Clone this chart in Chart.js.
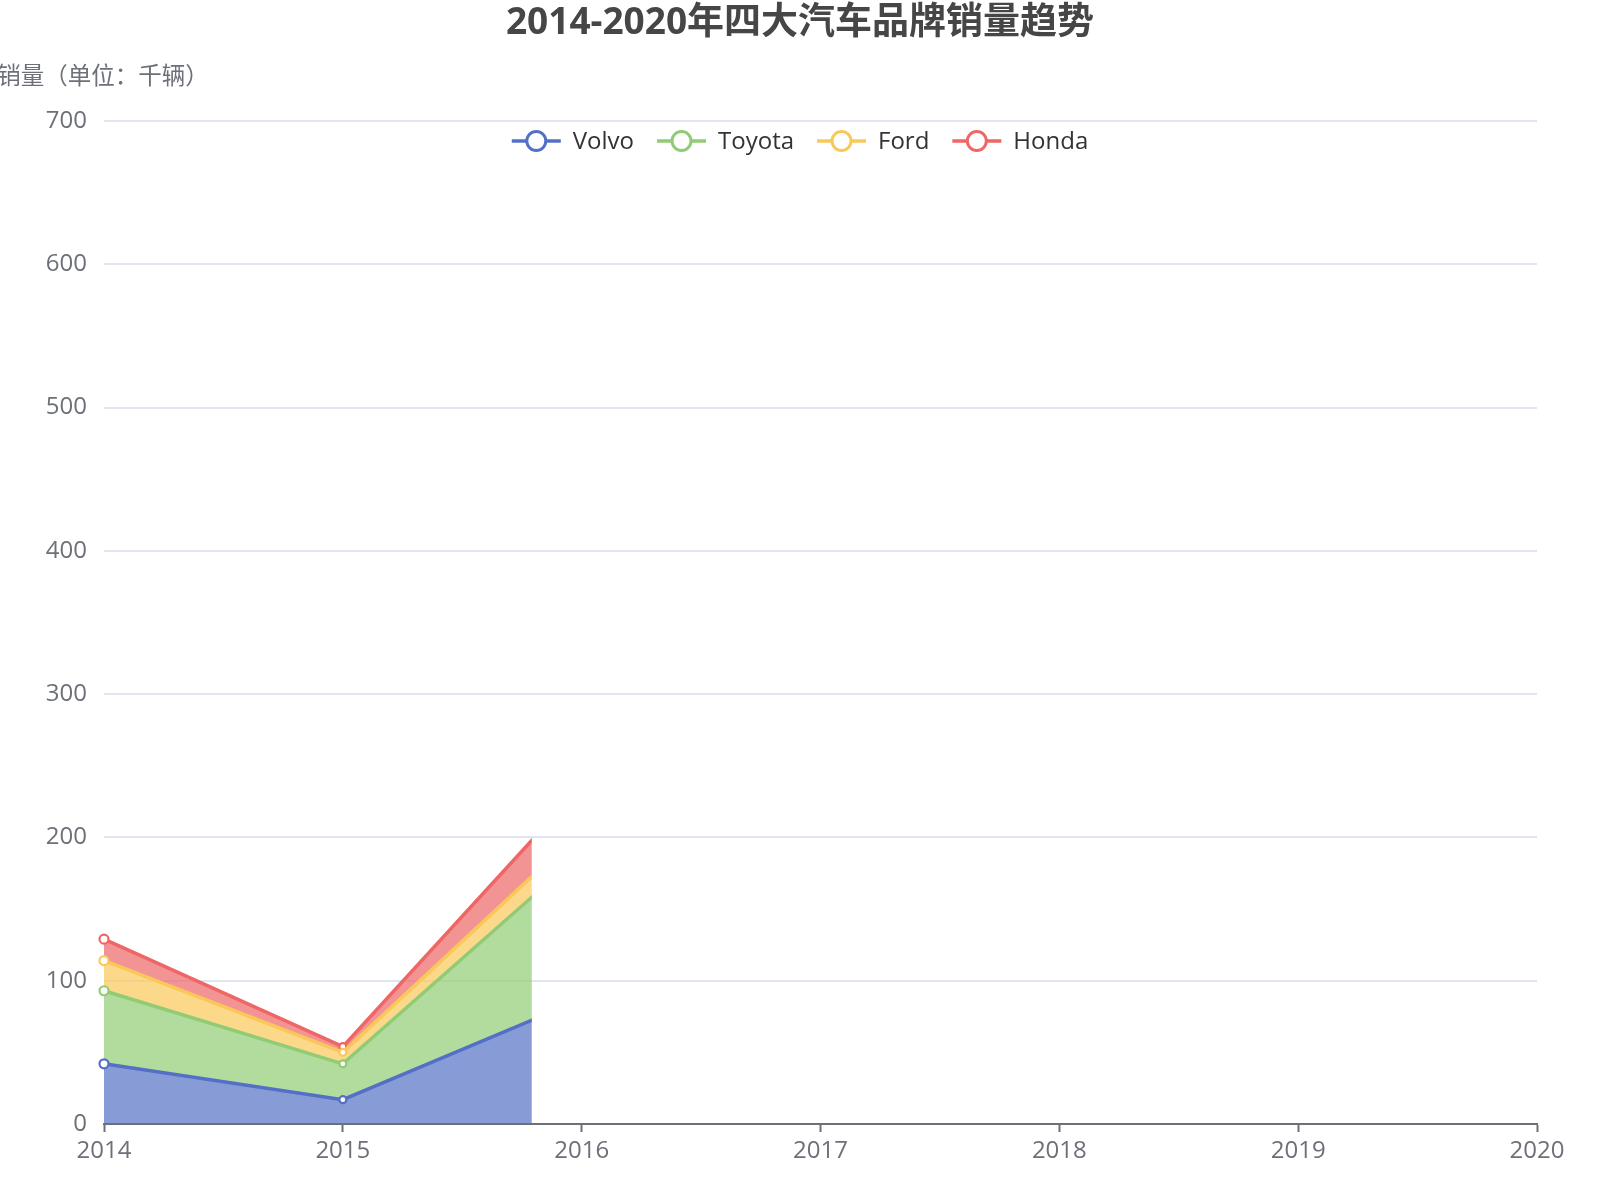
<!DOCTYPE html>
<html><head><meta charset="utf-8">
<script src="https://cdn.jsdelivr.net/npm/chart.js@4.4.0/dist/chart.umd.min.js"></script>
<style>html,body{margin:0;padding:0;background:#fff;} #wrap{width:1600px;height:1200px;position:relative;}</style>
</head><body><div id="wrap"><canvas id="c" width="1600" height="1200"></canvas></div>
<script>
const titleText = '2014-2020年四大汽车品牌销量趋势';
const yAxisName = '销量（单位：千辆）';
const years = ['2014', '2015', '2016', '2017', '2018', '2019', '2020'];
const seriesNames = ['Volvo', 'Toyota', 'Ford', 'Honda'];
const volvo = [42, 17, 87, null, null, null, null];
const toyota = [51, 25, 102, null, null, null, null];
const ford = [21, 8, 16, null, null, null, null];
const honda = [15, 4, 31, null, null, null, null];
const yMin = 0, yMax = 700, yStep = 100;
const revealProgress = 1.791; // how far along the x axis the drawing-in animation had reached

const lineColors = ['#5470c6', '#91cc75', '#fac858', '#ee6666'];
const fillColors = ['rgba(84,112,198,0.7)', 'rgba(145,204,117,0.7)', 'rgba(250,200,88,0.7)', 'rgba(238,102,102,0.7)'];
const FONT = '"Open Sans","Noto Sans CJK SC",sans-serif';

Chart.defaults.font.family = FONT;

const seriesValues = [volvo, toyota, ford, honda];
const datasets = seriesNames.map((name, i) => ({
  label: name,
  data: seriesValues[i],
  borderColor: lineColors[i],
  backgroundColor: fillColors[i],
  borderWidth: 3.5,
  pointRadius: [4.5, 3.5, 4.5, 4.5, 4.5, 4.5, 4.5],
  pointBorderWidth: 2.2,
  pointBackgroundColor: '#fff',
  pointBorderColor: lineColors[i],
  fill: i === 0 ? 'origin' : '-1',
  tension: 0,
  clip: false
}));

const revealPlugin = {
  id: 'reveal',
  beforeDatasetsDraw(chart) {
    const x = chart.scales.x, a = chart.chartArea;
    const i = Math.floor(revealProgress), f = revealProgress - i;
    const p0 = x.getPixelForValue(i), p1 = x.getPixelForValue(i + 1);
    const px = p0 + f * (p1 - p0);
    const ctx = chart.ctx;
    ctx.save();
    ctx.beginPath();
    ctx.rect(0, 0, px, a.bottom);
    ctx.clip();
  },
  afterDatasetsDraw(chart) { chart.ctx.restore(); }
};

const overlayPlugin = {
  id: 'overlay',
  afterDraw(chart) {
    const ctx = chart.ctx;
    const cx = (chart.width) / 2;
    ctx.save();
    ctx.textBaseline = 'middle';
    // title
    ctx.font = 'bold 37px ' + FONT;
    ctx.fillStyle = '#464646';
    ctx.textAlign = 'center';
    ctx.fillText(titleText, cx, 23);
    // y axis name
    ctx.font = '23.5px ' + FONT;
    ctx.fillStyle = '#6e7079';
    ctx.fillText(yAxisName, chart.scales.y.right - 1, 77);
    // legend
    ctx.font = '24px ' + FONT;
    const iconW = 49, gapIT = 12, gapItems = 23, ly = 141;
    const tw = seriesNames.map(n => ctx.measureText(n).width);
    let total = 0;
    tw.forEach(w => total += iconW + gapIT + w);
    total += gapItems * (seriesNames.length - 1);
    let x = cx - total / 2;
    ctx.textAlign = 'left';
    seriesNames.forEach((n, i) => {
      ctx.strokeStyle = lineColors[i];
      ctx.lineWidth = 3.5;
      ctx.beginPath(); ctx.moveTo(x, ly); ctx.lineTo(x + iconW, ly); ctx.stroke();
      ctx.beginPath(); ctx.arc(x + iconW / 2, ly, 9.5, 0, Math.PI * 2);
      ctx.fillStyle = '#fff'; ctx.fill();
      ctx.lineWidth = 3; ctx.stroke();
      ctx.fillStyle = '#333';
      ctx.fillText(n, x + iconW + gapIT, ly + 1);
      x += iconW + gapIT + tw[i] + gapItems;
    });
    ctx.restore();
  }
};

new Chart(document.getElementById('c'), {
  type: 'line',
  data: { labels: years, datasets },
  options: {
    responsive: false,
    animation: false,
    devicePixelRatio: 1,
    layout: { padding: { top: 121, left: 0, right: 63, bottom: 0 } },
    plugins: { legend: { display: false }, title: { display: false }, tooltip: { enabled: false } },
    scales: {
      x: {
        type: 'category',
        offset: false,
        z: 1,
        grid: { drawOnChartArea: false, drawTicks: true, tickLength: 8, tickColor: '#6e7079', tickWidth: 2 },
        border: { display: true, color: '#6e7079', width: 2 },
        ticks: { color: '#6e7079', font: { size: 24 }, padding: 5, maxRotation: 0, autoSkip: false },
        afterFit(s) { s.height = 76; }
      },
      y: {
        stacked: true,
        min: yMin, max: yMax,
        grid: { color: '#e0e6f1', lineWidth: 2, drawTicks: false },
        border: { display: false },
        ticks: { stepSize: yStep, color: '#6e7079', font: { size: 24 }, padding: 17 },
        afterFit(s) { s.width = 104; }
      }
    }
  },
  plugins: [revealPlugin, overlayPlugin]
});
</script>
</body></html>
